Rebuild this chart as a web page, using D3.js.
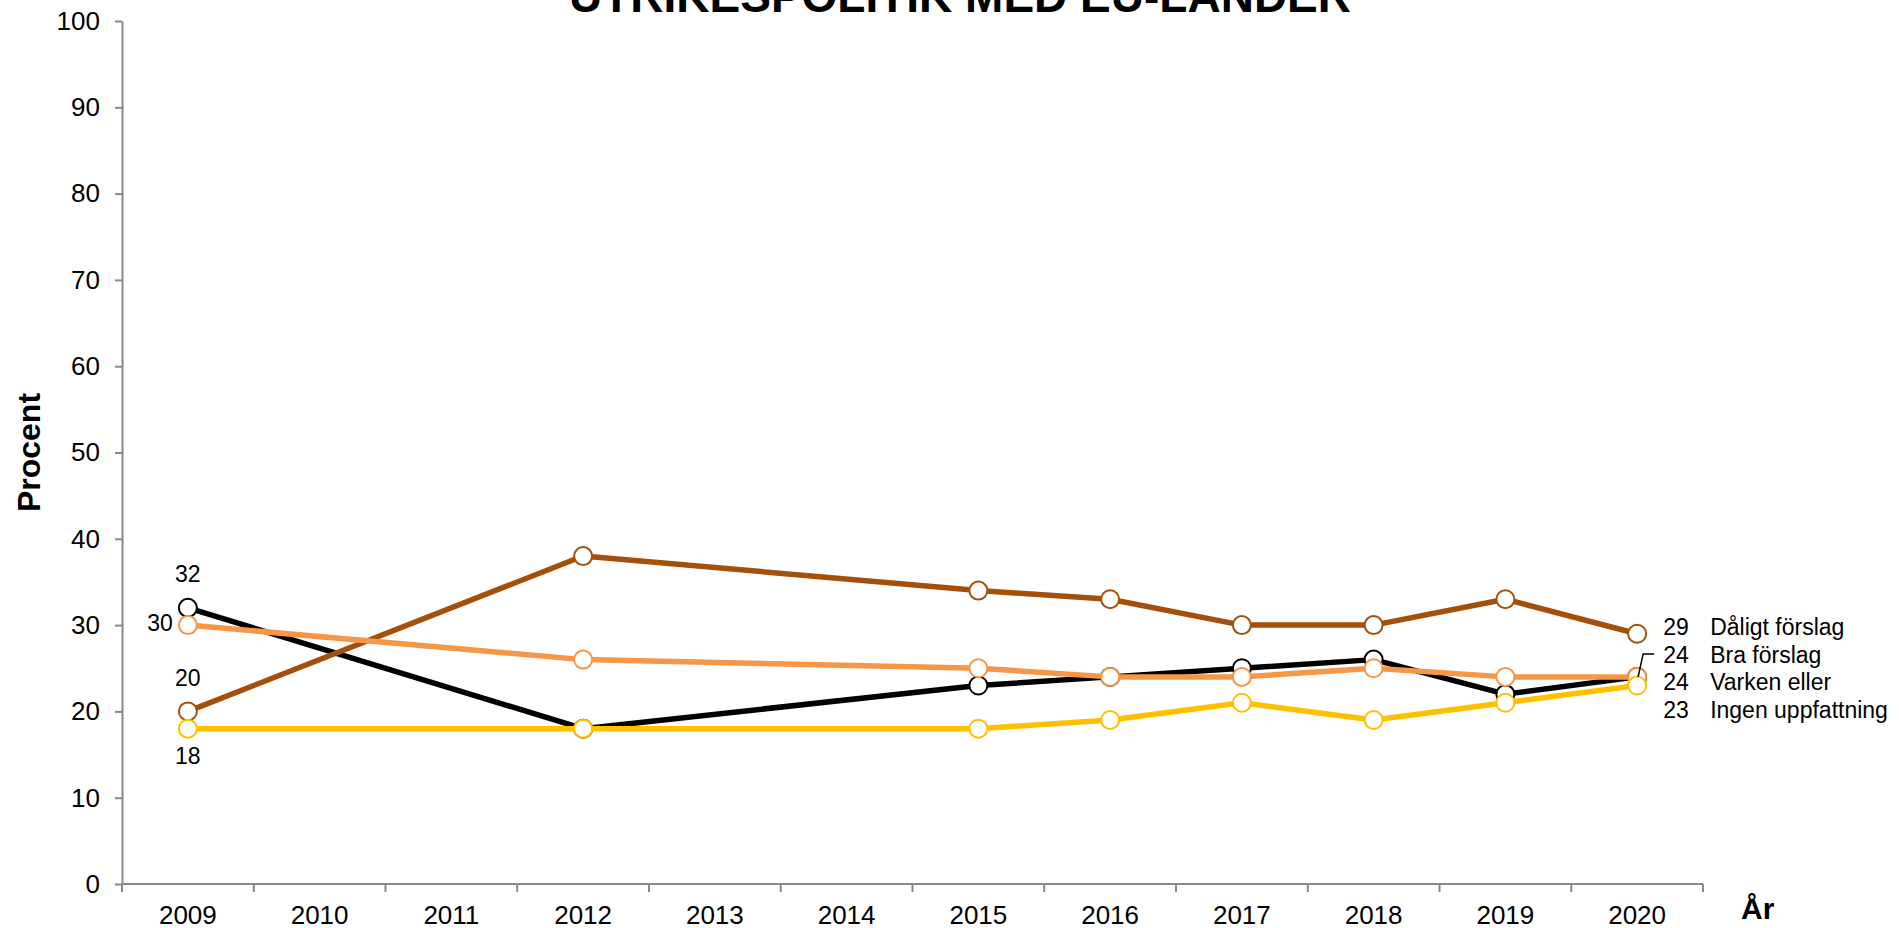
<!DOCTYPE html>
<html>
<head>
<meta charset="utf-8">
<script src="https://cdn.jsdelivr.net/npm/d3@7"></script>
<style>
  html, body { margin: 0; padding: 0; background: #fff; }
  svg { display: block; font-family: "Liberation Sans", Arial, sans-serif; }
</style>
</head>
<body>
<svg id="chart" width="1899" height="928"></svg>
<script>
// ---- Data ----
const years = ["2009","2010","2011","2012","2013","2014","2015","2016","2017","2018","2019","2020"];
const surveyYears = ["2009","2012","2015","2016","2017","2018","2019","2020"];
const braForslag      = [32, 18, 23, 24, 25, 26, 22, 24];
const daligtForslag   = [20, 38, 34, 33, 30, 30, 33, 29];
const varkenEller     = [30, 26, 25, 24, 24, 25, 24, 24];
const ingenUppfattning= [18, 18, 18, 19, 21, 19, 21, 23];
const yTicks = [0,10,20,30,40,50,60,70,80,90,100];
const chartTitle = "UTRIKESPOLITIK MED EU-LÄNDER";
const yTitle = "Procent";
const xTitle = "År";

(function () {
const series = [
  { name: "Bra förslag", values: braForslag, color: "#000000", labelDy: -14 },
  { name: "Dåligt förslag", values: daligtForslag, color: "#A5500A", labelDy: 1 },
  { name: "Varken eller", values: varkenEller, color: "#F79646", labelDy: 13 },
  { name: "Ingen uppfattning", values: ingenUppfattning, color: "#FFC000", labelDy: 32 }
];

// ---- Layout ----
const svg = d3.select("#chart");
const mLeft = 122, mRight = 1703, mTop = 21, mBottom = 884;
const axisColor = "#898989";

const x = d3.scaleBand().domain(years).range([mLeft, mRight]).padding(0);
const y = d3.scaleLinear().domain([0, 100]).range([mBottom, mTop]);
const cx = d => x(d) + x.bandwidth() / 2;

// Title
svg.append("text")
  .attr("x", 960).attr("y", 12)
  .attr("text-anchor", "middle")
  .attr("font-weight", "bold").attr("font-size", 46)
  .text(chartTitle);

// Y axis
const yAxis = d3.axisLeft(y).tickValues(yTicks).tickSize(7).tickPadding(15).tickSizeOuter(0);
const gy = svg.append("g").attr("transform", `translate(${mLeft},0)`).call(yAxis);
gy.select(".domain").attr("stroke", axisColor).attr("stroke-width", 2);
gy.selectAll(".tick line").attr("stroke", axisColor).attr("stroke-width", 2);
gy.selectAll(".tick text").attr("font-size", 26).attr("fill", "#000")
  .attr("font-family", "Liberation Sans, Arial, sans-serif");

// X axis
const gx = svg.append("g").attr("transform", `translate(0,${mBottom})`);
gx.append("line").attr("x1", mLeft).attr("x2", mRight).attr("y1", 0).attr("y2", 0)
  .attr("stroke", axisColor).attr("stroke-width", 2);
const boundaries = years.map(d => x(d)).concat([mRight]);
gx.selectAll("line.tk").data(boundaries).enter().append("line").attr("class", "tk")
  .attr("x1", d => d).attr("x2", d => d).attr("y1", 0).attr("y2", 8)
  .attr("stroke", axisColor).attr("stroke-width", 2);
gx.selectAll("text.lbl").data(years).enter().append("text").attr("class", "lbl")
  .attr("x", d => cx(d)).attr("y", 40)
  .attr("text-anchor", "middle").attr("font-size", 26)
  .text(d => d);

// Axis titles
svg.append("text")
  .attr("transform", "translate(40,452.5) rotate(-90)")
  .attr("text-anchor", "middle").attr("font-weight", "bold").attr("font-size", 32)
  .text(yTitle);
svg.append("text")
  .attr("x", 1741).attr("y", 919)
  .attr("font-weight", "bold").attr("font-size", 30)
  .text(xTitle);

// Lines & markers
const line = d3.line().x((d, i) => cx(surveyYears[i])).y(d => y(d));
series.forEach(s => {
  const g = svg.append("g");
  g.append("path").datum(s.values)
    .attr("d", line).attr("fill", "none")
    .attr("stroke", s.color).attr("stroke-width", 5.5)
    .attr("stroke-linejoin", "round");
  g.selectAll("circle").data(s.values).enter().append("circle")
    .attr("cx", (d, i) => cx(surveyYears[i])).attr("cy", d => y(d))
    .attr("r", 9).attr("fill", "#fff")
    .attr("stroke", s.color).attr("stroke-width", 2);
});

// Start labels (2009)
const first = surveyYears[0];
const startLabels = [
  { v: braForslag[0], dx: 0, dy: -26, anchor: "middle" },
  { v: varkenEller[0], dx: -15, dy: 6, anchor: "end" },
  { v: daligtForslag[0], dx: 0, dy: -25, anchor: "middle" },
  { v: ingenUppfattning[0], dx: 0, dy: 35, anchor: "middle" }
];
startLabels.forEach(l => {
  svg.append("text")
    .attr("x", cx(first) + l.dx).attr("y", y(l.v) + l.dy)
    .attr("text-anchor", l.anchor).attr("font-size", 23)
    .text(l.v);
});

// End labels (2020)
const last = surveyYears.length - 1;
const lastX = cx(surveyYears[last]);
[1, 0, 2, 3].forEach(k => {
  const s = series[k];
  const v = s.values[last];
  const by = y(v) + s.labelDy;
  const t = svg.append("text").attr("y", by).attr("font-size", 23);
  t.append("tspan").attr("x", lastX + 26).text(v);
  t.append("tspan").attr("x", lastX + 73).text(s.name);
});
// Leader line for "Bra förslag"
const sB = series[0];
const vB = sB.values[last];
const ly = y(vB) + sB.labelDy - 9;
svg.append("path")
  .attr("d", `M${lastX + 1},${y(vB)} L${lastX + 6},${ly} L${lastX + 17},${ly}`)
  .attr("fill", "none").attr("stroke", "#000").attr("stroke-width", 1.5);
})();
</script>
</body>
</html>
